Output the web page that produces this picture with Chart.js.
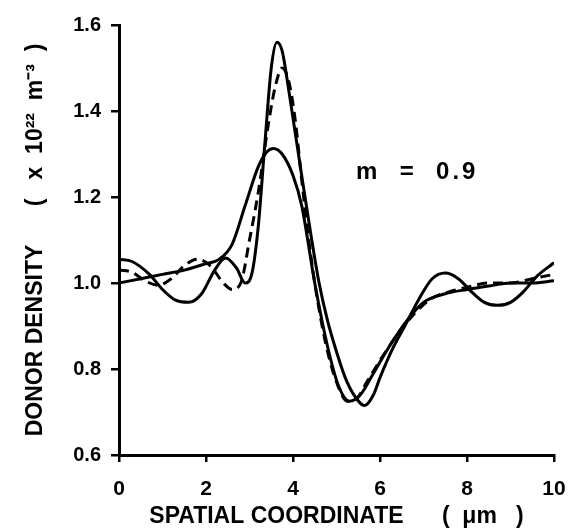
<!DOCTYPE html>
<html>
<head>
<meta charset="utf-8">
<script src="https://cdn.jsdelivr.net/npm/chart.js@4/dist/chart.umd.min.js"></script>
<style>
	html, body { margin: 0; padding: 0; background: #fff; }
	#wrap { width: 569px; height: 530px; }
</style>
</head>
<body>
<div id="wrap"><canvas id="densityChart" width="569" height="530"></canvas></div>
<script>
// ===== DATA =====
const xTicks = [0, 2, 4, 6, 8, 10];
const yTicks = [0.6, 0.8, 1.0, 1.2, 1.4, 1.6];

// broad solid curve
const broadX = [0, 0.5, 1.0, 1.5, 2.0, 2.3, 2.6, 2.9, 3.2, 3.4, 3.55, 3.75, 4.0, 4.2, 4.5, 4.8, 5.05, 5.3, 5.55, 5.85, 6.2, 6.6, 7.0, 7.5, 8.0, 8.5, 9.0, 9.5, 10];
const broadY = [1.0, 1.01, 1.02, 1.03, 1.045, 1.055, 1.09, 1.18, 1.27, 1.305, 1.313, 1.30, 1.25, 1.18, 1.0, 0.85, 0.76, 0.725, 0.74, 0.79, 0.85, 0.91, 0.955, 0.975, 0.985, 0.993, 1.0, 1.0, 1.005];

// sharp solid curve
const sharpX = [0, 0.3, 0.7, 1.0, 1.3, 1.6, 1.9, 2.2, 2.45, 2.7, 2.9, 3.05, 3.2, 3.35, 3.5, 3.63, 3.75, 3.9, 4.05, 4.2, 4.4, 4.6, 4.8, 5.0, 5.2, 5.4, 5.65, 5.85, 6.0, 6.28, 6.57, 6.92, 7.2, 7.5, 7.8, 8.1, 8.4, 8.7, 9.0, 9.3, 9.6, 10];
const sharpY = [1.055, 1.05, 1.02, 0.985, 0.96, 0.955, 0.975, 1.03, 1.058, 1.035, 1.0, 1.02, 1.13, 1.32, 1.5, 1.56, 1.54, 1.45, 1.35, 1.25, 1.12, 1.0, 0.91, 0.84, 0.78, 0.74, 0.715, 0.74, 0.78, 0.845, 0.9, 0.967, 1.01, 1.023, 1.01, 0.98, 0.955, 0.948, 0.955, 0.98, 1.015, 1.047];

// dashed curve
const dashX = [0, 0.3, 0.6, 0.9, 1.2, 1.5, 1.8, 2.1, 2.4, 2.6, 2.8, 3.0, 3.2, 3.45, 3.6, 3.75, 3.9, 4.05, 4.2, 4.35, 4.5, 4.75, 5.0, 5.25, 5.45, 5.7, 6.0, 6.4, 6.8, 7.2, 7.6, 8.0, 8.5, 9.0, 9.5, 10];
const dashY = [1.03, 1.025, 1.005, 0.995, 1.01, 1.04, 1.055, 1.04, 1.0, 0.985, 1.0, 1.1, 1.21, 1.38, 1.46, 1.5, 1.47, 1.38, 1.24, 1.11, 1.0, 0.86, 0.77, 0.725, 0.73, 0.77, 0.82, 0.88, 0.93, 0.965, 0.98, 0.99, 1.0, 1.0, 1.01, 1.02];

const annotation = { text: 'm  =  0.9', x: 5.45, y: 1.258 };

const toPoints = (xs, ys) => xs.map((x, i) => ({ x: x, y: ys[i] }));

// ===== CHART =====
const FONT = "'Liberation Sans', Arial, sans-serif";

const labelPlugin = {
	id: 'mLabel',
	afterDatasetsDraw(chart) {
		const ctx = chart.ctx;
		const px = chart.scales.x.getPixelForValue(annotation.x);
		const py = chart.scales.y.getPixelForValue(annotation.y);
		ctx.save();
		ctx.fillStyle = '#000';
		ctx.font = 'bold 24px ' + FONT;
		ctx.letterSpacing = '3px';
		ctx.textAlign = 'left';
		ctx.textBaseline = 'middle';
		ctx.fillText(annotation.text, px, py);
		ctx.restore();
	}
};

const lineStyle = {
	borderColor: '#000',
	borderWidth: 3,
	pointRadius: 0,
	fill: false,
	cubicInterpolationMode: 'monotone'
};

new Chart(document.getElementById('densityChart'), {
	type: 'line',
	data: {
		datasets: [
			Object.assign({ label: 'broad', data: toPoints(broadX, broadY) }, lineStyle),
			Object.assign({ label: 'sharp', data: toPoints(sharpX, sharpY) }, lineStyle),
			Object.assign({ label: 'dashed', data: toPoints(dashX, dashY), borderDash: [10, 6] }, lineStyle)
		]
	},
	options: {
		responsive: false,
		animation: false,
		layout: { padding: { top: 25, right: 0, left: 0, bottom: 0 } },
		plugins: {
			legend: { display: false },
			tooltip: { enabled: false }
		},
		scales: {
			x: {
				type: 'linear',
				min: 0,
				max: 10,
				afterBuildTicks: (scale) => { scale.ticks = xTicks.map(v => ({ value: v })); },
				afterFit: (scale) => {
					scale.height = 75;
					scale.paddingLeft = 0;
					scale.paddingRight = 15;
				},
				grid: { drawOnChartArea: false, color: '#000', lineWidth: 2.5, tickLength: 7 },
				border: { display: true, color: '#000', width: 3 },
				ticks: {
					color: '#000',
					padding: 15,
					maxRotation: 0,
					font: { family: FONT, size: 21, weight: 'bold' }
				},
				title: {
					display: true,
					text: 'SPATIAL COORDINATE      (  \u03bcm   )',
					color: '#000',
					padding: { top: 0, bottom: 0 },
					font: { family: FONT, size: 23, weight: 'bold' }
				}
			},
			y: {
				type: 'linear',
				min: 0.6,
				max: 1.6,
				afterBuildTicks: (scale) => { scale.ticks = yTicks.map(v => ({ value: v })); },
				afterFit: (scale) => { scale.width = 119; },
				grid: { drawOnChartArea: false, color: '#000', lineWidth: 2.5, tickLength: 8 },
				border: { display: true, color: '#000', width: 3 },
				ticks: {
					color: '#000',
					padding: 10,
					callback: (v) => Number(v).toFixed(1),
					font: { family: FONT, size: 20, weight: 'bold' }
				},
				title: {
					display: true,
					text: 'DONOR DENSITY      (   x  10\u00b2\u00b2  m\u207b\u00b3  )',
					color: '#000',
					padding: { top: 22, bottom: 0 },
					font: { family: FONT, size: 23, weight: 'bold' }
				}
			}
		}
	},
	plugins: [labelPlugin]
});
</script>
</body>
</html>
